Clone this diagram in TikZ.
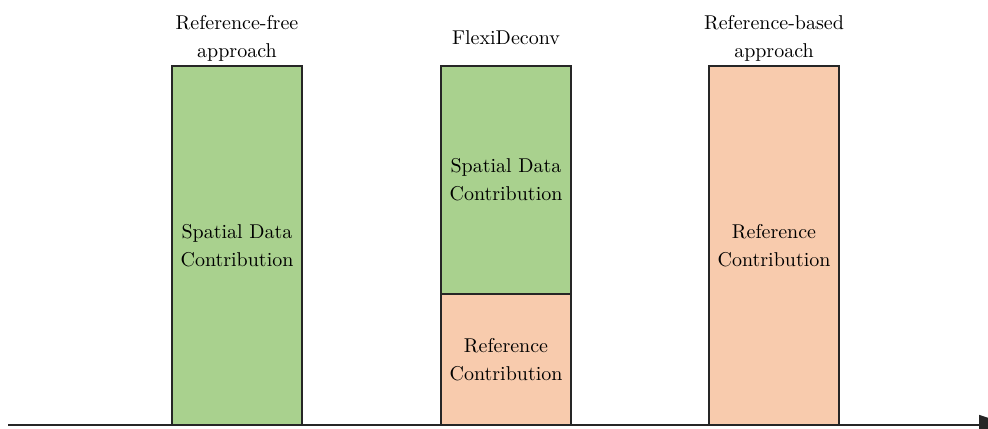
\documentclass[tikz,border=0pt]{standalone}
\usetikzlibrary{arrows.meta}
\definecolor{spgreen}{HTML}{A9D18E}
\definecolor{reforange}{HTML}{F8CBAD}
\tikzset{
  bar/.style={draw=black!85, line width=0.9pt, minimum width=65pt, inner sep=0pt, outer sep=0pt, align=center, font=\fontsize{10}{14}\selectfont},
  greenbar/.style={bar, fill=spgreen},
  orangebar/.style={bar, fill=reforange},
  toplabel/.style={anchor=center, align=center, font=\fontsize{10}{14}\selectfont},
  axis/.style={draw=black!85, line width=0.9pt, -{Triangle[length=15pt,width=10pt]}}
}
\begin{document}
\begin{tikzpicture}[x=1pt,y=1pt]
\useasboundingbox (0,0) rectangle (494,214);
\clip (0,0) rectangle (494,214);
% left bar
\node[greenbar, minimum height=179.5pt, anchor=south west] (left) at (86,1.5) {Spatial Data\\Contribution};
% middle bar
\node[orangebar, minimum height=65.5pt, anchor=south west] (midref) at (220.5,1.5) {Reference\\Contribution};
\node[greenbar, minimum height=114pt, anchor=south west] (midsp) at (midref.north west) {Spatial Data\\Contribution};
% right bar
\node[orangebar, minimum height=179.5pt, anchor=south west] (right) at (354.5,1.5) {Reference\\Contribution};
% labels
\node[toplabel] (lleft) at ([yshift=14pt]left.north) {Reference-free\\approach};
\node[toplabel] (lmid) at ([yshift=14pt]midsp.north) {FlexiDeconv};
\node[toplabel] (lright) at ([yshift=14pt]right.north) {Reference-based\\approach};
% axis
\coordinate (axs) at (4,1.5);
\coordinate (axe) at (504.5,1.5);
\draw[axis] (axs) -- (axe);
\end{tikzpicture}
\end{document}
